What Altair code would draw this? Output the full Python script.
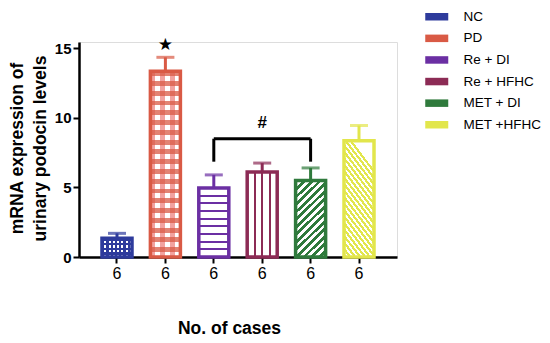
import altair as alt
import pandas as pd

groups = ["NC", "PD", "Re + DI", "Re + HFHC", "MET + DI", "MET +HFHC"]
means = [1.35, 13.35, 4.95, 6.1, 5.5, 8.35]
errors = [0.35, 1.0, 0.95, 0.65, 0.9, 1.1]
cases = ["6", "6", "6", "6", "6", "6"]
colors = ["#2e3b9c", "#d95a45", "#6b2fa3", "#8c2b55", "#2f7a3c", "#e2e64c"]

star_group = ["PD"]
star_y = [15.2]
bracket_from = ["Re + DI"]
bracket_to = ["MET + DI"]
bracket_y = [8.5]
bracket_low = [6.85]
hash_group = ["Re + HFHC"]
hash_y = [9.6]

df = pd.DataFrame({
    "group": groups,
    "mean": means,
    "top": [m + e for m, e in zip(means, errors)],
    "color": colors,
})
star_df = pd.DataFrame({"group": star_group, "y": star_y})
hbar_df = pd.DataFrame({"g1": bracket_from, "g2": bracket_to, "y": bracket_y})
legs_df = pd.DataFrame({"group": bracket_from + bracket_to,
                        "y": bracket_y * 2, "y2": bracket_low * 2})
hash_df = pd.DataFrame({"group": hash_group, "y": hash_y})

FONT = "Liberation Sans"

xscale = alt.Scale(domain=groups, paddingInner=0.38, paddingOuter=0.475)
yscale = alt.Scale(domain=[0, 15.45], nice=False)

label_expr = "[" + ",".join("'%s'" % c for c in cases) + "][indexof([" + \
    ",".join("'%s'" % g for g in groups) + "], datum.value)]"

xenc = alt.X("group:N", sort=groups, scale=xscale, axis=alt.Axis(
    title="No. of cases", labelExpr=label_expr, labelAngle=0,
    labelFont=FONT, labelFontSize=16, labelColor="black", labelPadding=2,
    domainColor="black", domainWidth=2.5, tickColor="black", tickWidth=2,
    tickSize=6, titleFont=FONT, titleFontSize=17.5, titleFontWeight="bold",
    titleColor="black", titleX=150, titleY=71, titleBaseline="middle",
    titleAlign="center"))
yenc = alt.Y("mean:Q", scale=yscale, axis=alt.Axis(
    values=[0, 5, 10, 15], grid=False,
    title=["mRNA expression of", "urinary podocin levels"],
    labelFont=FONT, labelFontSize=15, labelFontWeight="bold", labelColor="black",
    labelPadding=2, domainColor="black", domainWidth=2.5, tickColor="black",
    tickWidth=2, tickSize=6, titleFont=FONT, titleFontSize=17.5,
    titleFontWeight="bold", titleColor="black", titleAngle=270,
    titleX=-61.5, titleY=106, titleBaseline="middle", titleAlign="center",
    titleLineHeight=22.5))

base = alt.Chart(df).encode(x=xenc, y=yenc)


def stripe_stops(bg, fg, n, frac):
    stops = []
    for i in range(n):
        a = i / n
        b = (i + frac) / n
        stops += [{"offset": a, "color": fg}, {"offset": b, "color": fg},
                  {"offset": b, "color": bg}, {"offset": (i + 1) / n, "color": bg}]
    return stops


def grad(stops, x1, y1, x2, y2):
    return {"gradient": "linear", "x1": x1, "y1": y1, "x2": x2, "y2": y2,
            "stops": stops}


def lines_stops(bg, fg, centers, hw):
    stops = [{"offset": 0, "color": bg}]
    for c in centers:
        stops += [{"offset": c - hw, "color": bg}, {"offset": c - hw, "color": fg},
                  {"offset": c + hw, "color": fg}, {"offset": c + hw, "color": bg}]
    stops.append({"offset": 1, "color": bg})
    return stops


legend_bars = base.mark_bar(strokeWidth=0).encode(
    color=alt.Color("group:N", sort=groups,
                    scale=alt.Scale(domain=groups, range=colors),
                    legend=alt.Legend(
                        title=None, orient="none", legendX=351, legendY=-32,
                        symbolType="M-2.3,-0.75H2.3V0.75H-2.3Z", symbolSize=100,
                        symbolStrokeWidth=0, symbolOpacity=1, labelOffset=20,
                        labelFont=FONT, labelFontSize=13.5, labelColor="black",
                        rowPadding=6.6, padding=0, labelLimit=200)))

fills = {
    # plaid (checker-like) patterns: layer A then translucent layer B
    "NC": [grad(stripe_stops("#ffffff", "#2e3b9c", 7, 0.55), 0, 0, 1, 0),
           grad(stripe_stops("rgba(46,59,156,0)", "rgba(46,59,156,1)", 4, 0.5), 0, 0, 0, 1)],
    "PD": [grad(stripe_stops("#ffffff", "#f2a3a0", 3, 0.5), 0, 0, 1, 0),
           grad(stripe_stops("rgba(217,90,69,0)", "rgba(217,90,69,0.75)", 19, 0.5), 0, 0, 0, 1)],
    "Re + DI": [grad(lines_stops("#ffffff", "#6b2fa3", [k / 9 for k in range(1, 9)], 0.014), 0, 0, 0, 1)],
    "Re + HFHC": [grad(lines_stops("#ffffff", "#8c2b55", [k / 4 for k in range(1, 4)], 0.035), 0, 0, 1, 0)],
    "MET + DI": [grad(stripe_stops("#ffffff", "#2f7a3c", 14, 0.5), 0, 0, 0.46, 1.2)],
    "MET +HFHC": [grad(stripe_stops("#ffffff", "#e2e64c", 20, 0.55), 0, 1.0, 0.34, 0.0)],
}

pattern_layers = []
for g in groups:
    for f in fills[g]:
        pattern_layers.append(
            base.transform_filter(alt.datum.group == g).mark_bar(fill=f, strokeWidth=0))

outline = base.mark_bar(fillOpacity=0, strokeWidth=3.5).encode(
    stroke=alt.Stroke("color:N", scale=None))

err_rule = base.mark_rule(strokeWidth=3).encode(
    y2="top:Q", stroke=alt.Stroke("color:N", scale=None))
err_cap = base.mark_tick(thickness=3, size=18, orient="horizontal").encode(
    y=alt.Y("top:Q", scale=yscale), fill=alt.Fill("color:N", scale=None))

star = alt.Chart(star_df).mark_text(text="★", fontSize=17, color="black",
                                    baseline="middle", font="DejaVu Sans").encode(
    x=alt.X("group:N", sort=groups, scale=xscale), y=alt.Y("y:Q", scale=yscale))

hbar = alt.Chart(hbar_df).mark_rule(strokeWidth=3, color="black").encode(
    x=alt.X("g1:N", sort=groups, scale=xscale), x2="g2:N",
    y=alt.Y("y:Q", scale=yscale))
legs = alt.Chart(legs_df).mark_rule(strokeWidth=3, color="black").encode(
    x=alt.X("group:N", sort=groups, scale=xscale),
    y=alt.Y("y:Q", scale=yscale), y2="y2:Q")
hash_t = alt.Chart(hash_df).mark_text(text="#", fontSize=17, fontWeight="bold",
                                      color="black", baseline="middle", font=FONT).encode(
    x=alt.X("group:N", sort=groups, scale=xscale), y=alt.Y("y:Q", scale=yscale))

chart = alt.layer(legend_bars, *pattern_layers, outline, err_rule, err_cap,
                  star, hbar, legs, hash_t).properties(
    width=318, height=215,
    autosize=alt.AutoSizeParams(type="none"),
    padding={"left": 71, "top": 34, "right": 145, "bottom": 86},
).configure_view(strokeWidth=0).configure(background="white")

chart.save("out.html", embed_options={"renderer": "svg", "actions": False})
